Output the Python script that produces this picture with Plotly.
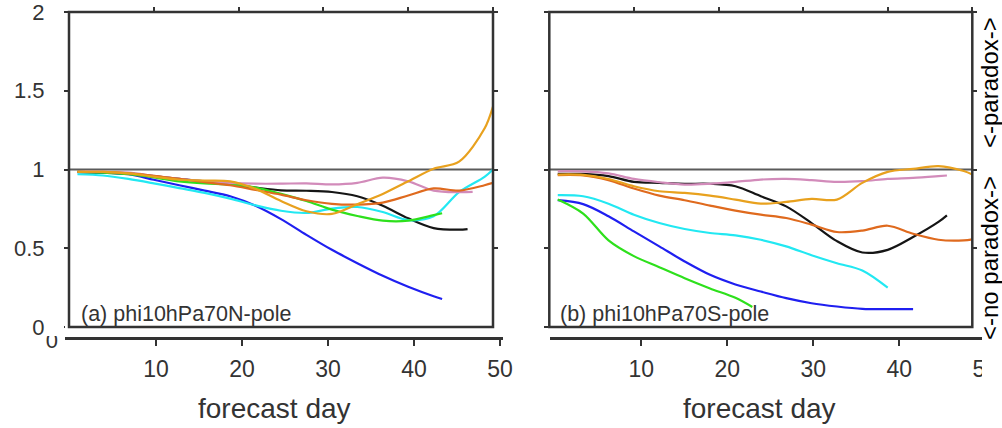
import plotly.graph_objects as go

# ---------------- data ----------------
DAYS = [1, 4, 7, 10, 13, 16, 19, 22, 25, 28, 31, 34, 37, 40, 43, 46, 49]
X_TICKS = [10, 20, 30, 40, 50]
Y_TICKS = [0, 0.5, 1, 1.5, 2]
Y_TICK_TEXT = ["0", "0.5", "1", "1.5", "2"]
REF_LEVEL = 1.0

# panel (a) phi10hPa70N-pole
A_BLACK = [0.985, 0.98, 0.975, 0.958, 0.94, 0.925, 0.905, 0.885, 0.868, 0.865, 0.857, 0.83, 0.77, 0.69, 0.628, 0.618]
A_BLACK_END = (47, 0.622)
A_BLUE = [0.983, 0.98, 0.97, 0.935, 0.9, 0.866, 0.83, 0.77, 0.685, 0.585, 0.49, 0.405, 0.325, 0.255, 0.195]
A_BLUE_END = (44, 0.178)
A_CYAN = [0.97, 0.962, 0.94, 0.912, 0.882, 0.852, 0.815, 0.772, 0.738, 0.724, 0.752, 0.762, 0.73, 0.679, 0.703, 0.856, 0.953]
A_CYAN_END = (50, 1.0)
A_GREEN = [0.985, 0.98, 0.97, 0.95, 0.925, 0.912, 0.905, 0.885, 0.845, 0.80, 0.745, 0.705, 0.675, 0.675, 0.71]
A_GREEN_END = (44, 0.722)
A_ORANGE = [0.985, 0.985, 0.975, 0.955, 0.935, 0.93, 0.925, 0.877, 0.80, 0.735, 0.718, 0.78, 0.845, 0.925, 1.005, 1.05, 1.26]
A_ORANGE_END = (50, 1.40)
A_DKORANGE = [0.985, 0.985, 0.975, 0.96, 0.94, 0.92, 0.9, 0.87, 0.84, 0.805, 0.782, 0.777, 0.79, 0.835, 0.88, 0.866, 0.90]
A_DKORANGE_END = (50, 0.915)
A_PINK = [0.985, 0.985, 0.98, 0.96, 0.94, 0.925, 0.915, 0.91, 0.91, 0.912, 0.905, 0.915, 0.948, 0.925, 0.866, 0.856]
A_PINK_END = (47.6, 0.858)

# panel (b) phi10hPa70S-pole
B_BLACK = [0.972, 0.972, 0.958, 0.921, 0.915, 0.909, 0.909, 0.894, 0.83, 0.766, 0.66, 0.545, 0.473, 0.49, 0.571, 0.667]
B_BLACK_END = (47, 0.709)
B_BLUE = [0.805, 0.78, 0.703, 0.607, 0.512, 0.416, 0.331, 0.27, 0.225, 0.183, 0.151, 0.13, 0.115, 0.113, 0.113]
B_BLUE_END = None
B_CYAN = [0.837, 0.83, 0.783, 0.713, 0.66, 0.622, 0.597, 0.582, 0.554, 0.512, 0.456, 0.405, 0.359, 0.25]
B_CYAN_END = None
B_GREEN = [0.809, 0.72, 0.55, 0.45, 0.38, 0.31, 0.245, 0.185]
B_GREEN_END = (24, 0.127)
B_ORANGE = [0.968, 0.966, 0.94, 0.894, 0.862, 0.851, 0.834, 0.809, 0.783, 0.794, 0.813, 0.809, 0.915, 0.985, 1.004, 1.021, 0.99]
B_ORANGE_END = (50, 0.968)
B_DKORANGE = [0.964, 0.962, 0.932, 0.879, 0.834, 0.805, 0.771, 0.739, 0.713, 0.692, 0.65, 0.603, 0.612, 0.643, 0.592, 0.554, 0.55]
B_DKORANGE_END = (50, 0.556)
B_PINK = [0.989, 0.988, 0.975, 0.94, 0.919, 0.904, 0.909, 0.921, 0.936, 0.94, 0.932, 0.921, 0.926, 0.94, 0.947, 0.958]
B_PINK_END = (47, 0.962)

COLORS = {
    "black": "#151515",
    "blue": "#1f1ff0",
    "cyan": "#22e8f2",
    "green": "#2ee01c",
    "orange": "#e8a11e",
    "dkorange": "#df6a1e",
    "pink": "#d28bba",
}

PANEL_A = [("black", A_BLACK, A_BLACK_END), ("blue", A_BLUE, A_BLUE_END),
           ("cyan", A_CYAN, A_CYAN_END), ("green", A_GREEN, A_GREEN_END),
           ("pink", A_PINK, A_PINK_END), ("dkorange", A_DKORANGE, A_DKORANGE_END),
           ("orange", A_ORANGE, A_ORANGE_END)]
PANEL_B = [("black", B_BLACK, B_BLACK_END), ("blue", B_BLUE, B_BLUE_END),
           ("cyan", B_CYAN, B_CYAN_END), ("green", B_GREEN, B_GREEN_END),
           ("pink", B_PINK, B_PINK_END), ("dkorange", B_DKORANGE, B_DKORANGE_END),
           ("orange", B_ORANGE, B_ORANGE_END)]

# ---------------- figure ----------------
W, H = 1002, 428
FONT = "Liberation Sans, Arial, Helvetica, sans-serif"
AX = "#333333"


def px_x(p):
    return p / W


def px_y(p):
    return 1 - p / H


fig = go.Figure()


def add_panel(series, xa, ya):
    for name, vals, end in series:
        xs = DAYS[:len(vals)]
        ys = list(vals)
        if end is not None:
            xs = xs + [end[0]]
            ys = ys + [end[1]]
        fig.add_trace(go.Scatter(x=xs, y=ys, mode="lines", xaxis=xa, yaxis=ya,
                                 line=dict(color=COLORS[name], width=2.2, shape="spline", smoothing=0.9),
                                 showlegend=False, hoverinfo="skip", cliponaxis=False))


add_panel(PANEL_A, "x", "y")
add_panel(PANEL_B, "x2", "y2")
# empty traces so that the detached / top axes are built
for xa, ya in (("x3", "y3"), ("x4", "y3"), ("x5", "y"), ("x6", "y2")):
    fig.add_trace(go.Scatter(x=[], y=[], xaxis=xa, yaxis=ya, showlegend=False))

box_y_dom = [px_y(327), px_y(12)]

box_x = dict(range=[0, 50], tickvals=X_TICKS, showticklabels=False, ticks="outside",
             ticklen=5, tickwidth=2, tickcolor=AX, showline=False,
             showgrid=False, zeroline=False, automargin=False)
box_y = dict(domain=box_y_dom, range=[0, 2], tickvals=Y_TICKS, ticktext=Y_TICK_TEXT,
             ticks="outside", ticklen=4, tickwidth=2, tickcolor=AX, showline=False,
             mirror="ticks", showgrid=False, zeroline=False,
             tickfont=dict(size=22, color=AX, family=FONT), automargin=False,
             ticklabeloverflow="allow")

day_axis = dict(tickvals=X_TICKS, ticks="outside", ticklen=7, tickwidth=2, tickcolor=AX,
                showline=True, linewidth=2.5, linecolor=AX, showgrid=False, zeroline=False,
                tickfont=dict(size=23, color=AX, family=FONT), anchor="free",
                position=px_y(337.7), ticklabelstandoff=3, automargin=False)

fig.update_layout(
    width=W, height=H, margin=dict(l=0, r=0, t=0, b=0, pad=0, autoexpand=False),
    paper_bgcolor="white", plot_bgcolor="white",
    font=dict(family=FONT, color=AX),
    xaxis=dict(domain=[px_x(69), px_x(493)], anchor="y", **box_x),
    xaxis5=dict(domain=[px_x(69), px_x(493)], anchor="free", position=box_y_dom[1],
                side="top", overlaying="x", **box_x),
    yaxis=dict(anchor="x", ticklabelstandoff=15, **box_y),
    xaxis2=dict(domain=[px_x(549.3), px_x(972.3)], anchor="y2", **box_x),
    xaxis6=dict(domain=[px_x(549.3), px_x(972.3)], anchor="free", position=box_y_dom[1],
                side="top", overlaying="x2", **box_x),
    yaxis2=dict(anchor="x2", showticklabels=False, **box_y),
    xaxis3=dict(domain=[px_x(65), px_x(503)], range=[-0.581, 50.349], **day_axis),
    xaxis4=dict(domain=[px_x(550), px_x(995)], range=[-0.616, 51.13], **day_axis),
    yaxis3=dict(domain=[px_y(340), px_y(326)], range=[0, 1], anchor="x3",
                tickvals=[0], ticktext=["0"], ticks="", showline=False, showgrid=False,
                zeroline=False, tickfont=dict(size=22, color=AX, family=FONT),
                ticklabelstandoff=6, automargin=False),
)

shapes = []
for xr, yr in (("x", "y"), ("x2", "y2")):
    shapes.append(dict(type="line", xref=xr + " domain", x0=0, x1=1, yref=yr,
                       y0=REF_LEVEL, y1=REF_LEVEL, line=dict(color="#5a5a5a", width=2),
                       layer="below"))
    # frame of each panel
    shapes.append(dict(type="rect", xref=xr + " domain", x0=0, x1=1, yref=yr + " domain",
                       y0=0, y1=1, line=dict(color=AX, width=2.5), fillcolor="rgba(0,0,0,0)",
                       layer="above"))
# white patches reproducing the cropped edges of the original picture
shapes.append(dict(type="rect", xref="paper", yref="paper", x0=px_x(45.5), x1=px_x(60),
                   y0=px_y(336), y1=px_y(324), fillcolor="white", line=dict(width=0),
                   layer="above"))
shapes.append(dict(type="rect", xref="paper", yref="paper", x0=px_x(982), x1=1.0,
                   y0=px_y(400), y1=px_y(333), fillcolor="white", line=dict(width=0),
                   layer="above"))
fig.update_layout(shapes=shapes)

ann = [
    dict(text="(a) phi10hPa70N-pole", x=px_x(79), y=px_y(314), xanchor="left",
         yanchor="middle", font=dict(size=21.5, color=AX)),
    dict(text="(b) phi10hPa70S-pole", x=px_x(558), y=px_y(314), xanchor="left",
         yanchor="middle", font=dict(size=21.5, color=AX)),
    dict(text="forecast day", x=px_x(274), y=px_y(408), xanchor="center",
         yanchor="middle", font=dict(size=28, color=AX)),
    dict(text="forecast day", x=px_x(759), y=px_y(408), xanchor="center",
         yanchor="middle", font=dict(size=28, color=AX)),
    dict(text="&lt;-paradox-&gt;", x=px_x(989.5), y=px_y(82.5), xanchor="center",
         yanchor="middle", textangle=-90, font=dict(size=24, color="black")),
    dict(text="&lt;-no paradox-&gt;", x=px_x(989.5), y=px_y(258.5), xanchor="center",
         yanchor="middle", textangle=-90, font=dict(size=24, color="black")),
]
for a in ann:
    a.update(xref="paper", yref="paper", showarrow=False, font=dict(family=FONT, **a["font"]))
fig.update_layout(annotations=ann)

fig.write_html("out.html")
